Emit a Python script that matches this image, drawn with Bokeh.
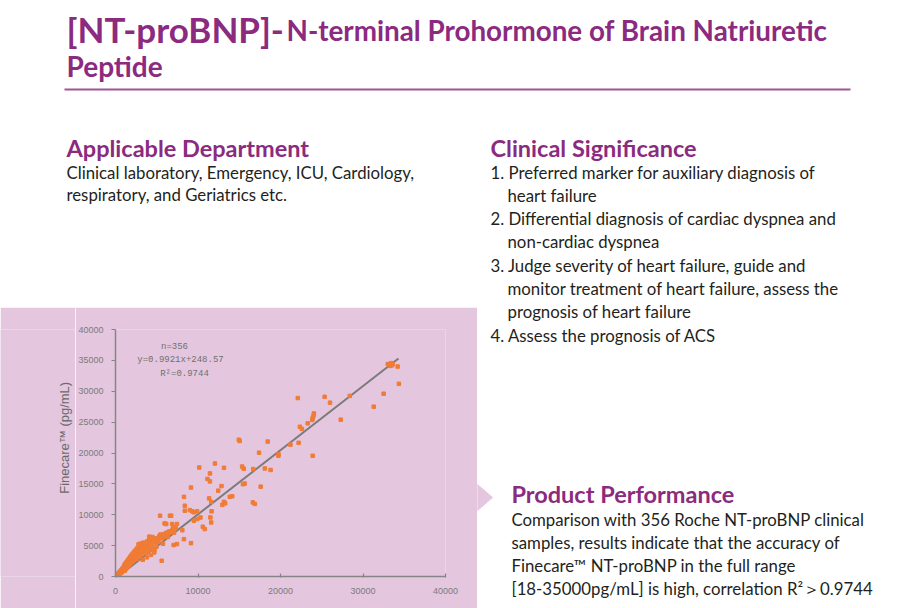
from bokeh.plotting import figure
from bokeh.models import Range1d, FixedTicker, Label, BasicTickFormatter
from bokeh.layouts import column, row
from bokeh.embed import file_html
from bokeh.resources import INLINE
import math

# ---------------- data ----------------
# dense cluster, Roche 0-1000
a_x = [30, 60, 90, 110, 140, 170, 190, 230, 260, 280, 310, 340, 370, 400, 420, 460, 490, 510, 540, 570,
       600, 630, 660, 690, 720, 740, 780, 810, 840, 870, 900, 930, 960, 990]
a_y = [50, 120, 40, 180, 110, 250, 160, 300, 210, 380, 270, 420, 330, 560, 390, 520, 700, 450, 640, 820,
       560, 760, 950, 650, 880, 1100, 720, 1000, 1250, 850, 1150, 1400, 980, 1300]
# Roche 1000-2000
b_x = [1020, 1050, 1090, 1120, 1150, 1180, 1210, 1240, 1270, 1300, 1330, 1360, 1390, 1420, 1450, 1480, 1510,
       1540, 1570, 1600, 1630, 1660, 1690, 1720, 1750, 1780, 1810, 1840, 1870, 1900, 1930, 1960, 1990]
b_y = [1600, 1150, 1850, 1400, 950, 2000, 1550, 1250, 2200, 1700, 1350, 2350, 1900, 1500, 2500, 2050, 1650,
       2700, 2250, 1800, 2850, 2400, 1950, 3000, 2600, 2100, 3200, 2750, 2250, 3350, 2900, 2400, 3500]
# Roche 2000-3000
c_x = [2030, 2070, 2110, 2150, 2190, 2230, 2270, 2310, 2350, 2390, 2430, 2470, 2510, 2550, 2590, 2630, 2670,
       2710, 2750, 2790, 2830, 2870, 2910, 2950, 2990]
c_y = [2700, 3650, 3100, 2500, 3850, 3300, 2750, 4050, 3500, 2950, 4200, 3650, 3150, 4400, 3850, 2800, 4600,
       4000, 3300, 5200, 4200, 3500, 4800, 5300, 3700]
# Roche 3000-5000
d_x = [3040, 3100, 3160, 3220, 3280, 3340, 3400, 3460, 3520, 3580, 3640, 3700, 3760, 3820, 3880, 3940, 4000,
       4080, 4160, 4240, 4320, 4400, 4480, 4560, 4640, 4720, 4800, 4880, 4960, 3300, 3800, 4300, 4700]
d_y = [4400, 3500, 5000, 4100, 5450, 3900, 4700, 5200, 4200, 5500, 4600, 3800, 5300, 4400, 5700, 4900, 4100,
       6300, 5400, 4700, 6000, 5100, 6400, 4400, 5800, 4300, 6100, 5500, 4800, 2700, 3100, 3500, 3900]
# Roche 5000-7500
e_x = [5050, 5200, 5300, 5450, 5600, 5750, 5900, 6050, 6200, 6350, 6500, 6700, 6900, 7100, 7300, 5600]
e_y = [6200, 5600, 6500, 6800, 6200, 5300, 6900, 6700, 7100, 6400, 7300, 7200, 7600, 7100, 7800, 2550]
# sparse points
f_x = [33000, 33200, 33400, 33600, 33300, 33500, 34200, 34350, 32500, 31300, 28400, 27300, 26000, 25350,
       22100, 23900, 24050, 24000, 23900, 23850, 23300, 22350, 22600, 22200, 21200, 19750, 19750, 18450,
       17400, 18100, 18800, 17600, 16700, 16650, 16900, 15650, 15450, 15350, 15550, 14950, 15050, 13850,
       14150, 13150, 12950, 13300, 12850, 12450, 13150, 12050, 11450, 11150, 11450, 11350, 11600, 11650,
       11500, 11600, 10150, 9150, 9900, 9500, 9300, 9000, 10300, 9900, 9500, 10580, 10820, 8300, 8400,
       8400, 8100, 8300, 9150, 7450, 7050, 6600, 6750, 5950, 6870, 7450, 5400, 6150, 7000, 6750, 6400,
       6250, 6050, 5850, 4100, 4450, 4650, 5050, 5400]
f_y = [34400, 34250, 34550, 34400, 34100, 34200, 34000, 31200, 29600, 27500, 29250, 25400, 28150, 29100,
       28900, 19550, 26400, 26050, 25650, 25350, 24800, 24250, 23900, 21650, 21350, 19800, 19550, 21850,
       20050, 17500, 17250, 14550, 17400, 12000, 11750, 15050, 14950, 17800, 17450, 22150, 21950, 12900,
       13000, 12100, 11600, 11850, 14650, 13900, 17600, 18300, 16700, 15800, 15400, 12650, 12100, 10550,
       9560, 8750, 17650, 14400, 10550, 10400, 10550, 10750, 9560, 9300, 9030, 8060, 7680, 12900, 11460,
       10650, 7500, 6050, 5400, 5250, 5100, 9840, 9840, 8600, 8500, 8500, 9850, 8500, 8050, 7250, 7000,
       6850, 6650, 6450, 6450, 6200, 5900, 5900, 6200]

roche_x = a_x + b_x + c_x + d_x + e_x + f_x
finecare_y = a_y + b_y + c_y + d_y + e_y + f_y

fit_x = [300, 34300]
fit_y = [0, 35300]

x_ticks = [0, 10000, 20000, 30000, 40000]
y_ticks = [0, 5000, 10000, 15000, 20000, 25000, 30000, 35000, 40000]

stats_lines = ["n=356", "y=0.9921x+248.57", "R²=0.9744"]
y_axis_title = "Finecare™ (pg/mL)"

title_big = "[NT-proBNP]-"
title_small = "N-terminal Prohormone of Brain Natriuretic"
title_line2 = "Peptide"

dept_head = "Applicable Department"
dept_lines = ["Clinical laboratory, Emergency, ICU, Cardiology,",
              "respiratory, and Geriatrics etc."]

sig_head = "Clinical Significance"
sig_lines = ["1. Preferred marker for auxiliary diagnosis of",
             "heart failure",
             "2. Differential diagnosis of cardiac dyspnea and",
             "non-cardiac dyspnea",
             "3. Judge severity of heart failure, guide and",
             "monitor treatment of heart failure, assess the",
             "prognosis of heart failure",
             "4. Assess the prognosis of ACS"]
sig_indent = [0, 1, 0, 1, 0, 1, 1, 0]

perf_head = "Product Performance"
perf_lines = ["Comparison with 356 Roche NT-proBNP clinical",
              "samples, results indicate that the accuracy of",
              "Finecare™ NT-proBNP in the full range",
              "[18-35000pg/mL] is high, correlation R²＞0.9744"]

# ---------------- styling ----------------
PURPLE = "#8B2A7F"
LINE_PURPLE = "#A0559A"
PINK = "#E4C7DF"
ORANGE = "#F07C36"
BODY = "#231F20"
GRAY = "#7a7a7a"
HEAD_FONT = "Lato"
BODY_FONT = "Lato"
BODY_SIZE = 16.8
HEAD_SIZE = 23.5


def text_fig(w, h, bg="white"):
    f = figure(width=w, height=h, output_backend="svg", toolbar_location=None,
               x_range=Range1d(0, w), y_range=Range1d(h, 0),
               x_axis_type=None, y_axis_type=None, min_border=0)
    f.background_fill_color = bg
    f.border_fill_color = bg
    f.outline_line_color = None
    return f


def lab(f, text, x, y, size, color, font=BODY_FONT, style="normal", align="left",
        baseline="middle", angle=0.0):
    f.add_layout(Label(x=x, y=y, text=text, text_font=font, text_font_size=f"{size}px",
                       text_color=color, text_font_style=style, text_align=align,
                       text_baseline=baseline, angle=angle))


# ---- top: title (page y 0-128)
top = text_fig(898, 128)
lab(top, title_big, 66, 28, 35, PURPLE, font=HEAD_FONT, style="bold")
lab(top, title_small, 286, 30, 27.8, PURPLE, font=HEAD_FONT, style="bold")
lab(top, title_line2, 66, 65, 28, PURPLE, font=HEAD_FONT, style="bold")
top.line([64, 850], [89, 89], line_color=LINE_PURPLE, line_width=2)

# ---- left text block (page x 0-477, y 128-307)
dept = text_fig(477, 179)
lab(dept, dept_head, 66, 19, HEAD_SIZE, PURPLE, font=HEAD_FONT, style="bold")
for i, t in enumerate(dept_lines):
    lab(dept, t, 66, 44 + 22 * i, BODY_SIZE, BODY)

# ---- y-axis title strip (page x 0-75, y 307-608)
ytit = text_fig(75, 301, bg=PINK)
lab(ytit, y_axis_title, 64, 132, 13, "#6a6a6a", font="Liberation Sans", align="center",
    angle=math.pi / 2)

# ---- scatter (page x 75-477, y 307-608); frame = page x 115-445, y 329-576
sc = figure(width=402, height=301, output_backend="svg", toolbar_location=None,
            x_range=Range1d(0, 40000), y_range=Range1d(0, 40000),
            min_border_left=40, min_border_right=32, min_border_top=22, min_border_bottom=32)
sc.background_fill_color = PINK
sc.border_fill_color = PINK
sc.outline_line_color = None
sc.grid.visible = False
for ax, ticks in ((sc.xaxis, x_ticks), (sc.yaxis, y_ticks)):
    ax.ticker = FixedTicker(ticks=ticks)
    ax.formatter = BasicTickFormatter(use_scientific=False)
    ax.axis_line_color = "#858585"
    ax.axis_line_width = 1.5
    ax.major_tick_line_color = "#858585"
    ax.major_tick_line_width = 1.2
    ax.minor_tick_line_color = None
    ax.major_label_text_font = "Liberation Sans"
    ax.major_label_text_font_size = "9px"
    ax.major_label_text_color = GRAY
sc.xaxis.major_tick_in = 3
sc.xaxis.major_tick_out = 1
sc.xaxis.major_label_standoff = 10
sc.yaxis.major_tick_in = 0
sc.yaxis.major_tick_out = 4
sc.yaxis.major_label_standoff = 8

sc.line(fit_x, fit_y, line_color="#7b7b7b", line_width=2)
sc.scatter(roche_x, finecare_y, marker="square", size=3.5, fill_color=ORANGE, line_color=ORANGE)
for txt, (cx, cy) in zip(stats_lines, [(174, 346), (180, 359), (184, 373)]):
    sc.add_layout(Label(x=cx - 115, y=576 - cy, x_units="screen", y_units="screen", text=txt,
                        text_font="Liberation Mono", text_font_size="9px", text_color="#707070",
                        text_align="center", text_baseline="middle"))

# ---- right text block (page x 477-898, y 128-608)
rt = text_fig(421, 480)
lab(rt, sig_head, 13, 19, HEAD_SIZE, PURPLE, font=HEAD_FONT, style="bold")
sig_y = [44, 67, 90, 113, 137, 160, 183, 207]
for t, ind, yy in zip(sig_lines, sig_indent, sig_y):
    lab(rt, t, 13 + 17 * ind, yy, BODY_SIZE, BODY)
rt.patch([0, 15, 0], [356, 369, 382], fill_color=PINK, line_color=PINK)
lab(rt, perf_head, 34, 365, HEAD_SIZE, PURPLE, font=HEAD_FONT, style="bold")
for i, t in enumerate(perf_lines):
    lab(rt, t, 34, 391 + 23 * i, BODY_SIZE, BODY)

layout = column(top, row(column(dept, row(ytit, sc)), rt))
open("out.html", "w").write(file_html(layout, INLINE))
